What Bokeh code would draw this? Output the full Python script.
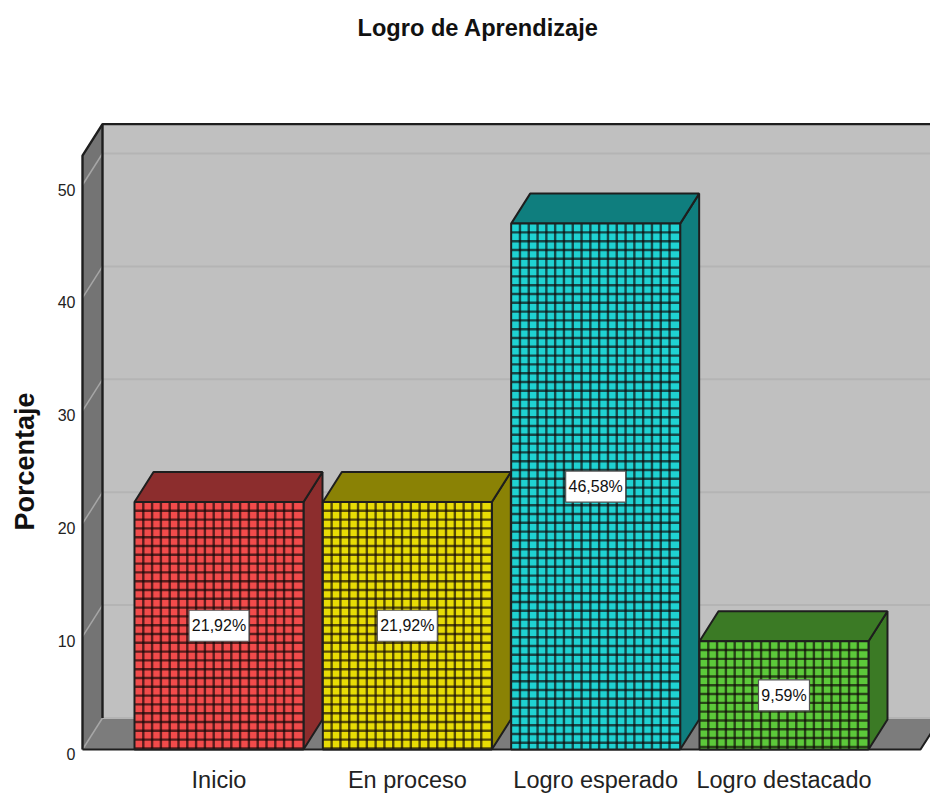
from bokeh.plotting import figure
from bokeh.embed import file_html
from bokeh.resources import INLINE
from bokeh.models import Range1d, LinearAxis, FixedTicker, Title, ColumnDataSource
from bokeh.core.properties import value

categories = ["Inicio", "En proceso", "Logro esperado", "Logro destacado"]
percentages = [21.92, 21.92, 46.58, 9.59]
value_labels = ["21,92%", "21,92%", "46,58%", "9,59%"]
y_ticks = [0, 10, 20, 30, 40, 50]
face_colors = ["#F24B4B", "#E8DC05", "#1FD2D2", "#5CC93A"]
side_colors = ["#8C2D2D", "#8A8205", "#0F7E7E", "#3B7A25"]
title_text = "Logro de Aprendizaje"
y_title = "Porcentaje"

FONT = "Liberation Sans"
W, H = 930, 796
FL, FR, FT, FB = 78, 930, 115, 757      # frame edges in figure px
BASE = 749                              # px of value 0
PX_Y = 11.29                            # px per percent point
PX_X = 188.33                           # px per category
CENTER0 = 218.5                         # px of first category
xs0 = (FL - CENTER0) / PX_X
xs1 = (FR - CENTER0) / PX_X
ys0 = (BASE - FB) / PX_Y
ys1 = (BASE - FT) / PX_Y
x0 = (82 - CENTER0) / PX_X
BAR_W = 169 / PX_X
WALL_DX, WALL_DY = 20 / PX_X, 31.5 / PX_Y
BAR_DX, BAR_DY = 19 / PX_X, 30 / PX_Y
AXIS_TOP = 52.6
PITCH_X, PITCH_Y = 8.8 / PX_X, 8.8 / PX_Y

p = figure(width=W, height=H, output_backend="svg", toolbar_location=None,
           x_range=Range1d(xs0, xs1), y_range=Range1d(ys0, ys1),
           min_border_left=FL, min_border_right=0, min_border_top=FT,
           min_border_bottom=H - FB, outline_line_color=None,
           x_axis_location="below", y_axis_location=None, background_fill_color="white")
p.grid.visible = False

# x axis
xa = p.xaxis[0]
xa.ticker = FixedTicker(ticks=list(range(len(categories))))
xa.major_label_overrides = {i: c for i, c in enumerate(categories)}
xa.axis_line_color = None
xa.major_tick_line_color = None
xa.minor_tick_line_color = None
xa.major_tick_out = 0
xa.major_tick_in = 0
xa.major_label_standoff = 9
xa.major_label_text_font = FONT
xa.major_label_text_font_size = "23.5px"
xa.major_label_text_color = "#222222"

# y axis: labels sit just below their gridline in the reference
shift = 4.5 / PX_Y
p.extra_y_ranges["labels"] = Range1d(ys0 + shift, ys1 + shift)
ya = LinearAxis(y_range_name="labels", ticker=FixedTicker(ticks=y_ticks))
ya.axis_line_color = None
ya.major_tick_line_color = None
ya.minor_tick_line_color = None
ya.major_tick_out = 0
ya.major_tick_in = 0
ya.major_label_standoff = 3
ya.major_label_text_font = FONT
ya.major_label_text_font_size = "16px"
ya.major_label_text_color = "#222222"
ya.axis_label = " "
ya.axis_label_standoff = 0
ya.axis_label_text_font_size = "6px"
p.add_layout(ya, "left")

# walls
xw = x0 + WALL_DX
yt = AXIS_TOP + WALL_DY
far = xs1 + 0.2
p.patch([xw, far, far, xw], [WALL_DY, WALL_DY, yt, yt], fill_color="#C0C0C0", line_color=None)
p.patch([x0, xw, xw, x0], [0, WALL_DY, yt, AXIS_TOP], fill_color="#747474", line_color=None)
floor_end = x0 + (920 - 82) / PX_X
p.patch([x0, xw, floor_end + WALL_DX, floor_end], [0, WALL_DY, WALL_DY, 0], fill_color="#7C7C7C", line_color=None)

# gridlines
p.segment(x0=[xw] * len(y_ticks), x1=[far] * len(y_ticks), y0=[t + WALL_DY for t in y_ticks],
          y1=[t + WALL_DY for t in y_ticks], line_color="#B4B4B4", line_width=2)
p.segment(x0=[x0] * len(y_ticks), x1=[xw] * len(y_ticks), y0=y_ticks,
          y1=[t + WALL_DY for t in y_ticks], line_color="#A6A6A6", line_width=1.5)

# wall outlines
DARK = "#1E1E1E"
p.line([x0, x0, xw, far], [0, AXIS_TOP, yt, yt], line_color=DARK, line_width=2.4)
p.line([xw, xw], [WALL_DY, yt], line_color=DARK, line_width=2.4)
p.line([x0, floor_end, floor_end + WALL_DX], [0, 0, WALL_DY], line_color=DARK, line_width=2)

# bars
for i, v in enumerate(percentages):
    l, r = i - BAR_W / 2, i + BAR_W / 2
    # side and top of the box
    p.patch([r, r + BAR_DX, r + BAR_DX, r], [0, BAR_DY, v + BAR_DY, v],
            fill_color=side_colors[i], line_color=DARK, line_width=2)
    p.patch([l, r, r + BAR_DX, l + BAR_DX], [v, v, v + BAR_DY, v + BAR_DY],
            fill_color=side_colors[i], line_color=DARK, line_width=2)
    p.quad(left=l, right=r, bottom=0, top=v, fill_color=face_colors[i], line_color=None)
    # woven grid of the face
    xs, k = [], 1
    while l + k * PITCH_X < r - PITCH_X * 0.3:
        xs.append(l + k * PITCH_X); k += 1
    ys, k = [], 1
    while v - k * PITCH_Y > 0:
        ys.append(v - k * PITCH_Y); k += 1
    p.segment(x0=xs, x1=xs, y0=[0] * len(xs), y1=[v] * len(xs), line_color="#100808", line_alpha=0.68, line_width=2.4)
    p.segment(x0=[l] * len(ys), x1=[r] * len(ys), y0=ys, y1=ys, line_color="#100808", line_alpha=0.68, line_width=2.4)
    p.quad(left=l, right=r, bottom=0, top=v, fill_color=None, line_color=DARK, line_width=2)

# value labels
src = ColumnDataSource(dict(x=list(range(len(percentages))),
                            y=[v / 2 for v in percentages],
                            t=value_labels,
                            w=[9 * len(t) + 6 for t in value_labels]))
p.rect(x="x", y="y", width="w", height=31, width_units="screen", height_units="screen",
       source=src, fill_color="white", line_color="#555555", line_width=1.2)
p.text(x="x", y="y", text="t", source=src, text_align="center", text_baseline="middle",
       text_font=value(FONT), text_font_size="16px", text_color="#111111")

# title and y title; a blank title holds the real one up at the top of the page
p.add_layout(Title(text=" ", text_font=FONT, text_font_size="24px", standoff=35), "above")
p.add_layout(Title(text=title_text, align="left", offset=357 - FL, standoff=22,
                   text_font=FONT, text_font_size="23.6px", text_font_style="bold",
                   text_color="#111111"), "above")
p.add_layout(Title(text=y_title, align="left", offset=FB - 530, standoff=12,
                   text_font=FONT, text_font_size="27px", text_font_style="bold",
                   text_color="#111111"), "left")

open("out.html", "w").write(file_html(p, INLINE))
